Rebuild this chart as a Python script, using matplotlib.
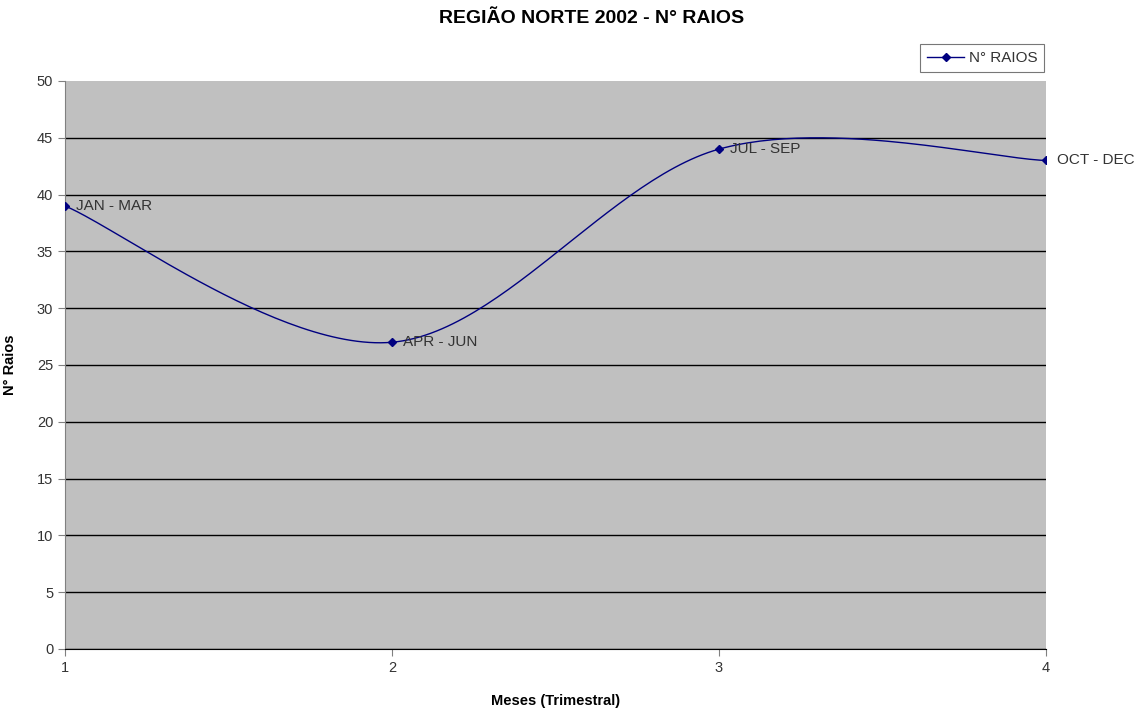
import numpy as np
import matplotlib.pyplot as plt

plt.rcParams['font.family'] = ['Liberation Sans', 'DejaVu Sans']

trimestre = [1, 2, 3, 4]
raios = [39, 27, 44, 43]
rotulos = ['JAN - MAR', 'APR - JUN', 'JUL - SEP', 'OCT - DEC']


def excel_smooth(x, y, n=60):
    # Bezier smoothing like Excel's "smoothed line"
    p = np.column_stack([x, y]).astype(float)
    out = []
    for i in range(len(p) - 1):
        p0 = p[i - 1] if i > 0 else p[i]
        p3 = p[i + 2] if i + 2 < len(p) else p[i + 1]
        c1 = p[i] + (p[i + 1] - p0) / 6
        c2 = p[i + 1] - (p3 - p[i]) / 6
        t = np.linspace(0, 1, n)[:, None]
        seg = ((1 - t) ** 3) * p[i] + 3 * ((1 - t) ** 2) * t * c1 \
            + 3 * (1 - t) * t ** 2 * c2 + t ** 3 * p[i + 1]
        out.append(seg)
    out = np.vstack(out)
    return out[:, 0], out[:, 1]


fig = plt.figure(figsize=(11.46, 7.16), dpi=100)
ax = fig.add_axes([0.0567, 0.0936, 0.856, 0.7933])
ax.set_facecolor('#c0c0c0')

sx, sy = excel_smooth(trimestre, raios)
ax.plot(sx, sy, color='#000080', lw=1, zorder=3)
ax.plot(trimestre, raios, ls='none', marker='D', ms=4.5, color='#000080', zorder=4)
ax.plot([], [], color='#000080', lw=1, marker='D', ms=4.5, label='N° RAIOS')

for xv, yv, lab in zip(trimestre, raios, rotulos):
    ax.annotate(lab, (xv, yv), xytext=(8, 0), textcoords='offset points',
                va='center', ha='left', fontsize=11, color='#333333', zorder=5,
                annotation_clip=False)

ax.set_xlim(1, 4)
ax.set_ylim(0, 50)
ax.set_yticks(range(0, 51, 5))
ax.set_xticks(trimestre)
ax.grid(axis='y', color='black', lw=1)
ax.get_ygridlines()[-1].set_visible(False)
ax.set_axisbelow(True)
for s in ['top', 'right']:
    ax.spines[s].set_visible(False)
ax.spines['left'].set_color('#808080')
ax.spines['bottom'].set_color('black')
ax.tick_params(axis='both', labelsize=10.5, labelcolor='#333333', color='#808080',
               length=5, direction='out')

fig.text(0.516, 0.974, 'REGIÃO NORTE 2002 - N° RAIOS', fontsize=14,
         fontweight='bold', ha='center', va='center')
ax.set_xlabel('Meses (Trimestral)', fontsize=10.5, fontweight='bold', labelpad=14)
ax.set_ylabel('N° Raios', fontsize=10.5, fontweight='bold', labelpad=14)

leg = fig.legend(loc='upper right', bbox_to_anchor=(0.911, 0.938), fontsize=11,
                 frameon=True, fancybox=False, handlelength=2.4, borderpad=0.45,
                 handletextpad=0.3, labelcolor='#333333', borderaxespad=0)
leg.get_frame().set_edgecolor('#555555')
leg.get_frame().set_linewidth(0.8)

fig.savefig('out.png', dpi=100, facecolor='white')
